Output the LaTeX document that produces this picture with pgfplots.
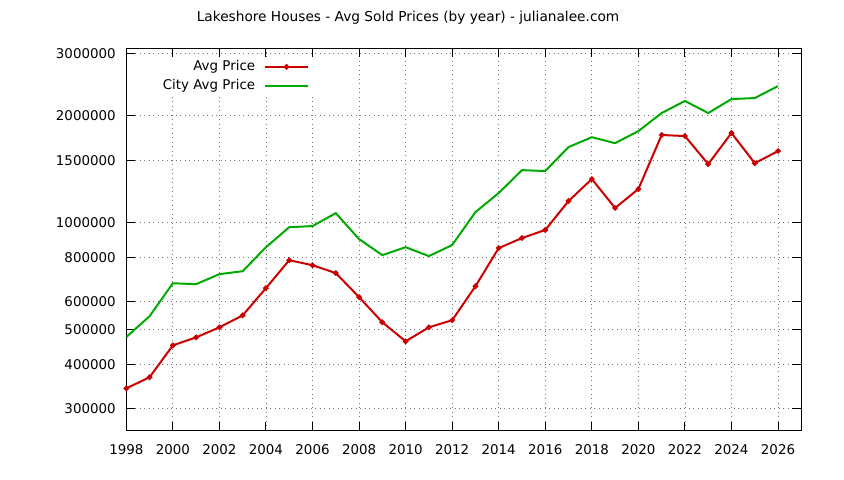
\documentclass[border=0pt]{standalone}
\usepackage{pgfplots}
\pgfplotsset{compat=1.18}
\usepackage{fontspec}
\setmainfont{DejaVu Sans}
\definecolor{avgred}{RGB}{204,0,0}
\definecolor{citygreen}{RGB}{0,170,0}
\begin{document}
\fontsize{13.4bp}{15bp}\selectfont
\begin{tikzpicture}
\begin{axis}[
  at={(126.3bp,49.3bp)}, anchor=south west,
  scale only axis, width=675bp, height=382.4bp,
  xmin=1998, xmax=2027,
  ymode=log, ymin=260000, ymax=3100000,
  xtick={1998,2000,...,2026},
  minor x tick num=1,
  ytick={300000,400000,500000,600000,800000,1000000,1500000,2000000,3000000},
  yticklabels={300000,400000,500000,600000,800000,1000000,1500000,2000000,3000000},
  minor ytick={},
  /pgf/number format/assume math mode=true,
  /pgf/number format/1000 sep={},
  major tick length=9bp, minor tick length=4.5bp,
  tick style={black, line width=1pt},
  axis line style={line width=1.2pt},
  grid=both,
  major grid style={black!55, line width=0.8pt, dash pattern=on 1bp off 3.5bp},
  minor grid style={black!55, line width=0.8pt, dash pattern=on 1bp off 3.5bp},
  xticklabel style={yshift=-9bp},
  yticklabel style={xshift=-6bp},
  legend plot pos=right,
  legend cell align=right,
  legend style={draw=none, fill=white, at={(0.2889,0.9767)}, anchor=north east,
    inner xsep=12bp, inner ysep=3bp, row sep=6.3bp, column sep=9bp,
    nodes={inner sep=0pt, text height=10bp, text depth=3bp}},
  legend image code/.code={\draw[mark repeat=2,mark phase=2,#1] plot coordinates {(0bp,0bp) (21.5bp,0bp) (43bp,0bp)};},
]
\addplot[avgred, line width=2pt, mark=*, mark size=1.7bp] coordinates {
  (1998,342000) (1999,367600) (2000,452000) (2001,476000) (2002,508000)
  (2003,549000) (2004,655000) (2005,785000) (2006,760000) (2007,722000)
  (2008,618000) (2009,525000) (2010,464000) (2011,508000) (2012,532000)
  (2013,663000) (2014,849000) (2015,906000) (2016,955000) (2017,1152000)
  (2018,1328000) (2019,1101000) (2020,1245000) (2021,1767000) (2022,1755000)
  (2023,1463000) (2024,1790000) (2025,1472000) (2026,1592000)
};
\addlegendentry{Avg Price}
\addplot[citygreen, line width=2pt] coordinates {
  (1998,477000) (1999,546000) (2000,676000) (2001,672000) (2002,717000)
  (2003,731000) (2004,854000) (2005,972000) (2006,979000) (2007,1065000)
  (2008,900000) (2009,811000) (2010,854000) (2011,806000) (2012,866000)
  (2013,1072000) (2014,1213000) (2015,1407000) (2016,1399000) (2017,1634000)
  (2018,1742000) (2019,1676000) (2020,1812000) (2021,2037000) (2022,2203000)
  (2023,2037000) (2024,2230000) (2025,2245000) (2026,2426000)
};
\addlegendentry{City Avg Price}
\end{axis}
\node[font=\fontsize{13.7bp}{16bp}\selectfont] at (408bp,462bp) {Lakeshore Houses - Avg Sold Prices (by year) - julianalee.com};
\pgfresetboundingbox
\useasboundingbox (0,0) rectangle (844bp,480bp);
\end{tikzpicture}
\end{document}
